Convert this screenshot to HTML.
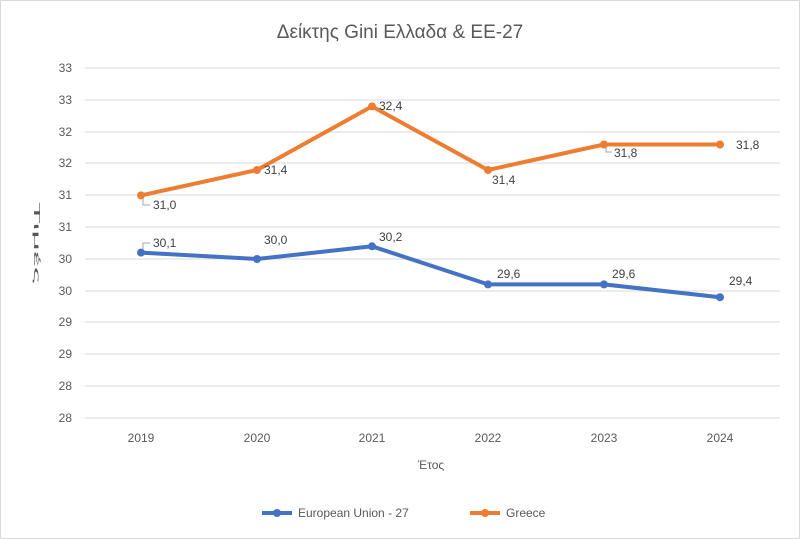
<!DOCTYPE html>
<html><head><meta charset="utf-8"><style>body{margin:0;background:#fff}svg{display:block}text{font-family:"Liberation Sans","DejaVu Sans",sans-serif}</style></head><body>
<svg width="800" height="539" viewBox="0 0 800 539" xmlns="http://www.w3.org/2000/svg">
<rect x="0.5" y="0.5" width="799" height="538" fill="#fff" stroke="#d9d9d9"/>
<text x="400" y="38" text-anchor="middle" font-size="19" fill="#595959">Δείκτης Gini Ελλαδα &amp; ΕΕ-27</text>
<g stroke="#d9d9d9" stroke-width="1">
<line x1="85" x2="780" y1="68" y2="68"/><line x1="85" x2="780" y1="100" y2="100"/><line x1="85" x2="780" y1="132" y2="132"/><line x1="85" x2="780" y1="163" y2="163"/><line x1="85" x2="780" y1="195" y2="195"/><line x1="85" x2="780" y1="227" y2="227"/><line x1="85" x2="780" y1="259" y2="259"/><line x1="85" x2="780" y1="291" y2="291"/><line x1="85" x2="780" y1="322" y2="322"/><line x1="85" x2="780" y1="354" y2="354"/><line x1="85" x2="780" y1="386" y2="386"/><line x1="85" x2="780" y1="418" y2="418"/>
</g>
<g font-size="12" fill="#595959" text-anchor="end">
<text x="72" y="72">33</text><text x="72" y="104">33</text><text x="72" y="136">32</text><text x="72" y="167">32</text><text x="72" y="199">31</text><text x="72" y="231">31</text><text x="72" y="263">30</text><text x="72" y="295">30</text><text x="72" y="326">29</text><text x="72" y="358">29</text><text x="72" y="390">28</text><text x="72" y="422">28</text>
</g>
<g font-size="12" fill="#595959" text-anchor="middle">
<text x="141" y="442">2019</text><text x="257" y="442">2020</text><text x="372" y="442">2021</text><text x="488" y="442">2022</text><text x="604" y="442">2023</text><text x="720" y="442">2024</text>
</g>
<text x="431" y="469" text-anchor="middle" font-size="12" fill="#595959">Έτος</text>
<text transform="translate(34,243) rotate(90)" text-anchor="middle" font-size="8" fill="#595959" textLength="82" lengthAdjust="spacingAndGlyphs">Τιμές</text>
<polyline fill="none" stroke="#ed7d31" stroke-width="4" stroke-linejoin="round" points="141,195.4 257,170 372,106.4 488,170 604,144.5 720,144.5"/>
<polyline fill="none" stroke="#4472c4" stroke-width="4" stroke-linejoin="round" points="141,252.6 257,259 372,246.3 488,284.4 604,284.4 720,297.2"/>
<g fill="#ed7d31"><circle cx="141" cy="195.4" r="4"/><circle cx="257" cy="170" r="4"/><circle cx="372" cy="106.4" r="4"/><circle cx="488" cy="170" r="4"/><circle cx="604" cy="144.5" r="4"/><circle cx="720" cy="144.5" r="4"/></g>
<g fill="#4472c4"><circle cx="141" cy="252.6" r="4"/><circle cx="257" cy="259" r="4"/><circle cx="372" cy="246.3" r="4"/><circle cx="488" cy="284.4" r="4"/><circle cx="604" cy="284.4" r="4"/><circle cx="720" cy="297.2" r="4"/></g>
<g stroke="#a6a6a6" fill="none"><polyline points="143,198 143,205 150,205"/><polyline points="143,249 143,243 150,243"/><polyline points="606,147 606,152 612,152"/></g>
<g font-size="12" fill="#404040">
<text x="153" y="209">31,0</text><text x="264" y="174">31,4</text><text x="379" y="110">32,4</text><text x="492" y="184">31,4</text><text x="614" y="157">31,8</text><text x="736" y="149">31,8</text>
<text x="153" y="247">30,1</text><text x="264" y="244">30,0</text><text x="379" y="241">30,2</text><text x="497" y="278">29,6</text><text x="612" y="278">29,6</text><text x="729" y="285">29,4</text>
</g>
<line x1="262" x2="292" y1="513" y2="513" stroke="#4472c4" stroke-width="4"/><circle cx="277" cy="513" r="4" fill="#4472c4"/>
<text x="298" y="517" font-size="12" fill="#595959">European Union - 27</text>
<line x1="470" x2="500" y1="513" y2="513" stroke="#ed7d31" stroke-width="4"/><circle cx="485" cy="513" r="4" fill="#ed7d31"/>
<text x="506" y="517" font-size="12" fill="#595959">Greece</text>
</svg>
</body></html>
